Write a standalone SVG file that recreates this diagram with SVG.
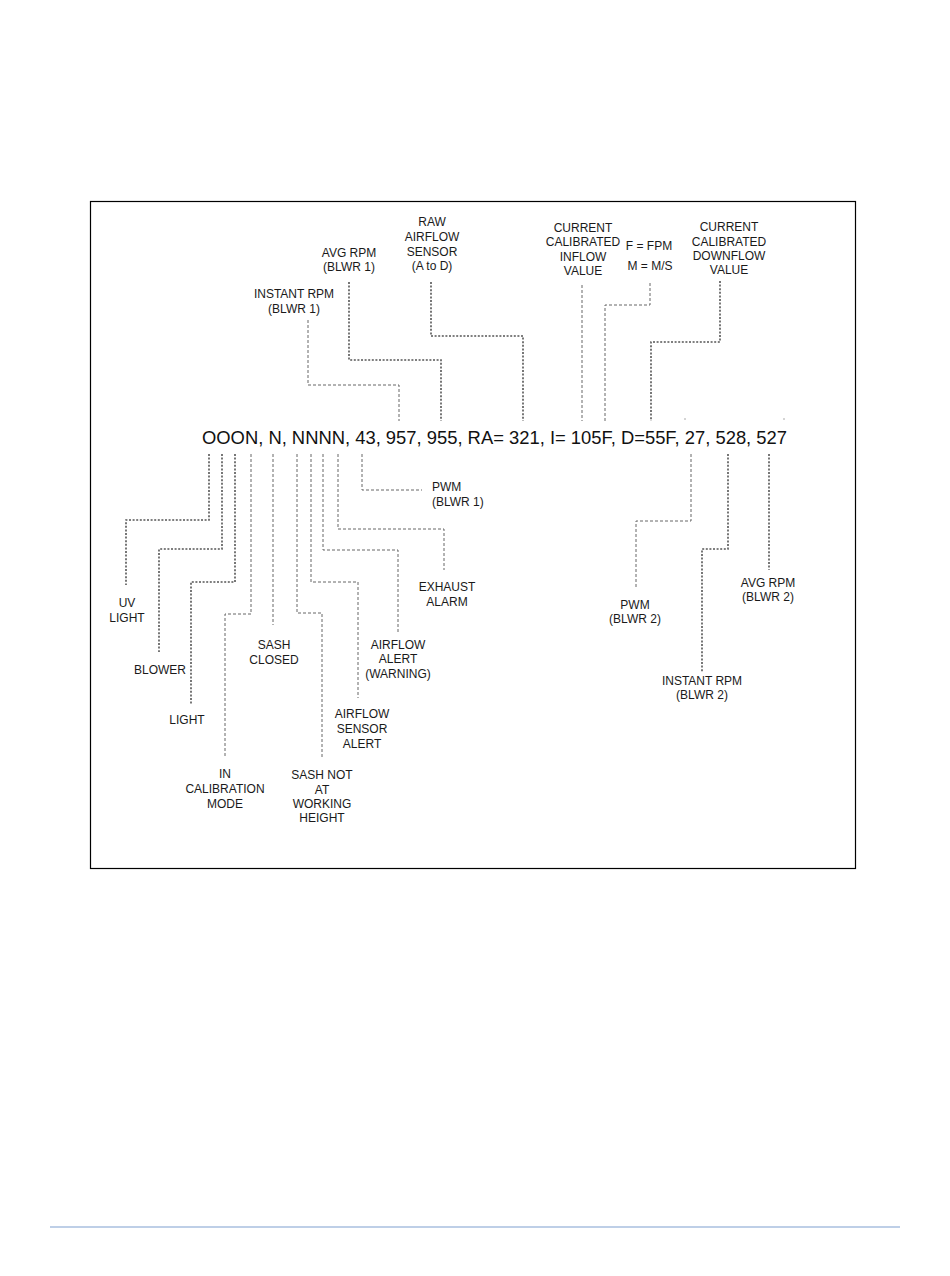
<svg xmlns="http://www.w3.org/2000/svg" width="950" height="1276" viewBox="0 0 950 1276">
<style>
.lbl{font-family:"Liberation Sans",Arial,sans-serif;font-size:12px;fill:#1a1a1a;text-anchor:middle}
.lbl-l{font-family:"Liberation Sans",Arial,sans-serif;font-size:12px;fill:#1a1a1a}
.main{font-family:"Liberation Sans",Arial,sans-serif;font-size:19px;fill:#111}
.dot{fill:none;stroke:#555;stroke-width:1.6;stroke-dasharray:2 1.6}
.dash{fill:none;stroke:#666;stroke-width:1;stroke-dasharray:3 2}
</style>
<rect width="950" height="1276" fill="#fff"/>
<rect id="frame" x="90.5" y="201.5" width="765" height="667" fill="none" stroke="#000" stroke-width="1.2"/>
<line id="footer-rule" x1="50" y1="1227" x2="900" y2="1227" stroke="#7f9fd0" stroke-width="1.2"/>

<g id="code-string">
<text class="main" x="202" y="444" textLength="585" lengthAdjust="spacingAndGlyphs">OOON, N, NNNN, 43, 957, 955, RA= 321, I= 105F, D=55F, 27, 528, 527</text>
</g>

<g id="connectors">
<!-- top -->
<polyline class="dash" points="308,320 308,385 399,385 399,421"/>
<polyline class="dot" points="349,282 349,360 441,360 441,421"/>
<polyline class="dot" points="431,282 431,336 523,336 523,421"/>
<polyline class="dash" points="582,285 582,421"/>
<polyline class="dash" points="650,283 650,305 605,305 605,421"/>
<polyline class="dot" points="720,281 720,342 651,342 651,421"/>
<line x1="684" y1="419" x2="686" y2="419" stroke="#aaa" stroke-width="1"/>
<line x1="783" y1="419" x2="785" y2="419" stroke="#aaa" stroke-width="1"/>
<!-- bottom left -->
<polyline class="dot" points="209,454 209,520 126,520 126,585"/>
<polyline class="dot" points="222,454 222,549 159,549 159,652"/>
<polyline class="dot" points="235,454 235,582 191,582 191,704"/>
<polyline class="dash" points="251,454 251,614 225,614 225,757"/>
<polyline class="dash" points="273,454 273,625"/>
<polyline class="dash" points="297,454 297,613 322,613 322,757"/>
<polyline class="dash" points="311,454 311,582 358,582 358,698"/>
<polyline class="dash" points="323,454 323,550 398,550 398,632"/>
<polyline class="dash" points="338,454 338,529 444,529 444,570"/>
<polyline class="dash" points="362,454 362,490 422,490"/>
<!-- bottom right -->
<polyline class="dash" points="691,454 691,521 636,521 636,587"/>
<polyline class="dot" points="728,454 728,549 702,549 702,672"/>
<polyline class="dot" points="769,454 769,570"/>
</g>

<g id="n-instant-rpm-1"><text class="lbl" x="294" y="298">INSTANT RPM</text><text class="lbl" x="294" y="313">(BLWR 1)</text></g>
<g id="n-avg-rpm-1"><text class="lbl" x="349" y="257">AVG RPM</text><text class="lbl" x="349" y="271">(BLWR 1)</text></g>
<g id="n-raw-airflow"><text class="lbl" x="432" y="226">RAW</text><text class="lbl" x="432" y="241">AIRFLOW</text><text class="lbl" x="432" y="256">SENSOR</text><text class="lbl" x="432" y="270">(A to D)</text></g>
<g id="n-inflow"><text class="lbl" x="583" y="232">CURRENT</text><text class="lbl" x="583" y="246">CALIBRATED</text><text class="lbl" x="583" y="261">INFLOW</text><text class="lbl" x="583" y="275">VALUE</text></g>
<g id="n-units"><text class="lbl" x="649" y="250">F = FPM</text><text class="lbl" x="650" y="270">M = M/S</text></g>
<g id="n-downflow"><text class="lbl" x="729" y="231">CURRENT</text><text class="lbl" x="729" y="246">CALIBRATED</text><text class="lbl" x="729" y="260">DOWNFLOW</text><text class="lbl" x="729" y="274">VALUE</text></g>

<g id="n-pwm-1"><text class="lbl-l" x="432" y="491">PWM</text><text class="lbl-l" x="432" y="506">(BLWR 1)</text></g>
<g id="n-uv"><text class="lbl" x="127" y="607">UV</text><text class="lbl" x="127" y="622">LIGHT</text></g>
<g id="n-blower"><text class="lbl" x="160" y="674">BLOWER</text></g>
<g id="n-light"><text class="lbl" x="187" y="724">LIGHT</text></g>
<g id="n-calibration"><text class="lbl" x="225" y="778">IN</text><text class="lbl" x="225" y="793">CALIBRATION</text><text class="lbl" x="225" y="808">MODE</text></g>
<g id="n-sash-closed"><text class="lbl" x="274" y="649">SASH</text><text class="lbl" x="274" y="664">CLOSED</text></g>
<g id="n-sash-not"><text class="lbl" x="322" y="779">SASH NOT</text><text class="lbl" x="322" y="794">AT</text><text class="lbl" x="322" y="808">WORKING</text><text class="lbl" x="322" y="822">HEIGHT</text></g>
<g id="n-sensor-alert"><text class="lbl" x="362" y="718">AIRFLOW</text><text class="lbl" x="362" y="733">SENSOR</text><text class="lbl" x="362" y="748">ALERT</text></g>
<g id="n-airflow-alert"><text class="lbl" x="398" y="649">AIRFLOW</text><text class="lbl" x="398" y="663">ALERT</text><text class="lbl" x="398" y="678">(WARNING)</text></g>
<g id="n-exhaust"><text class="lbl" x="447" y="591">EXHAUST</text><text class="lbl" x="447" y="606">ALARM</text></g>
<g id="n-pwm-2"><text class="lbl" x="635" y="609">PWM</text><text class="lbl" x="635" y="623">(BLWR 2)</text></g>
<g id="n-instant-rpm-2"><text class="lbl" x="702" y="685">INSTANT RPM</text><text class="lbl" x="702" y="699">(BLWR 2)</text></g>
<g id="n-avg-rpm-2"><text class="lbl" x="768" y="587">AVG RPM</text><text class="lbl" x="768" y="601">(BLWR 2)</text></g>
</svg>
